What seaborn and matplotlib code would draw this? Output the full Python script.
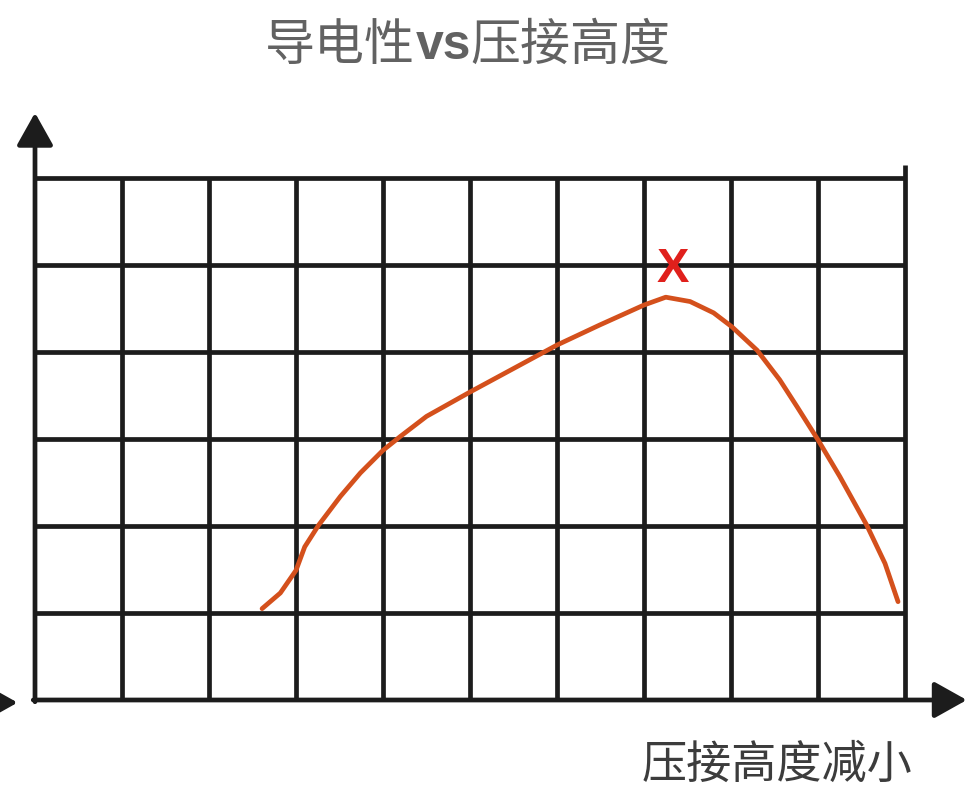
import pandas as pd
import matplotlib.pyplot as plt
import seaborn as sns

# Curva (unidades de grade: 10 colunas x 6 linhas)
curva_x = [2.61, 2.82, 3.00, 3.10, 3.26, 3.51, 3.74, 4.00, 4.20, 4.50, 5.00, 5.50,
           6.00, 6.49, 7.00, 7.25, 7.53, 7.80, 8.01, 8.30, 8.56, 8.76, 9.00, 9.25,
           9.56, 9.77, 9.92]
curva_y = [1.05, 1.23, 1.49, 1.76, 2.01, 2.34, 2.61, 2.87, 3.03, 3.26, 3.54, 3.81,
           4.08, 4.31, 4.54, 4.63, 4.58, 4.45, 4.29, 4.02, 3.68, 3.37, 2.99, 2.57,
           2.01, 1.57, 1.13]
pico_x = 7.33
pico_y = 4.95

colunas = list(range(11))
linhas = list(range(7))

# titulo em tres partes ("vs" em negrito)
titulo_partes = ['导电性', 'vs', '压接高度']
rotulo_x = '压接高度减小'

df = pd.DataFrame({'x': curva_x, 'y': curva_y})

sns.set_theme(style='white')
plt.rcParams['font.family'] = ['Noto Sans CJK SC', 'DejaVu Sans']

fig = plt.figure(figsize=(9.78, 7.88), dpi=100)
ax = fig.add_axes([0, 0, 1, 1])
ax.set_xlim(-35 / 87, 943 / 87)
ax.set_ylim(-88 / 87, 700 / 87)
ax.axis('off')

cor_grade = '#1c1c1c'
lw = 3.4

# grade
ax.vlines(colunas[1:-1], 0, 6, color=cor_grade, lw=lw)
ax.vlines(colunas[-1], 0, 6.15, color=cor_grade, lw=lw)
ax.hlines(linhas[1:], 0, 10, color=cor_grade, lw=lw)

# eixos com setas
seta = dict(arrowstyle='-|>,head_length=0.5,head_width=0.28', mutation_scale=40,
            color=cor_grade, lw=lw, shrinkA=0, shrinkB=0)
ax.annotate('', xy=(0, 6.75), xytext=(0, -0.02), arrowprops=seta)
ax.annotate('', xy=(10.71, 0), xytext=(-0.02, 0), arrowprops=seta)
ax.annotate('', xy=(-0.2, -0.03), xytext=(-0.9, -0.03), arrowprops=seta)

# curva
sns.lineplot(data=df, x='x', y='y', ax=ax, color='#d4501c', lw=3.4, sort=False,
             solid_capstyle='round', solid_joinstyle='round')

ax.text(pico_x, pico_y, 'X', color='#e0201c', fontsize=35, fontweight='bold',
        family='Liberation Sans', ha='center', va='center')

# titulo
cor_titulo = '#626262'
y_tit = 1 - 46 / 788
t1 = fig.text(0, y_tit, titulo_partes[0], fontsize=36, color=cor_titulo, va='center')
t2 = fig.text(0, y_tit, titulo_partes[1], fontsize=36, color=cor_titulo, va='center',
              fontweight='bold', family='Liberation Sans')
t3 = fig.text(0, y_tit, titulo_partes[2], fontsize=36, color=cor_titulo, va='center')
r = fig.canvas.get_renderer()
larguras = [t.get_window_extent(r).width for t in (t1, t2, t3)]
x0 = 468 - sum(larguras) / 2
for t, w in zip((t1, t2, t3), larguras):
    t.set_x(x0 / 978)
    x0 += w

fig.text(777 / 978, 1 - 765 / 788, rotulo_x, fontsize=32.5, color='#3c3c3c',
         ha='center', va='center', fontweight='light')

fig.savefig('out.png', dpi=100)
